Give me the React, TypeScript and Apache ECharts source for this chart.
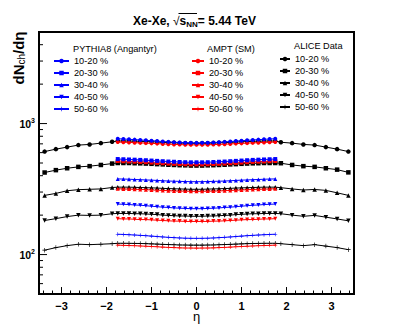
import React, { useEffect, useRef } from 'react';
import * as echarts from 'echarts';

const FONT = 'Liberation Sans, Arial, sans-serif';

// eta bin centres
const aliceEta = [
  -3.375, -3.125, -2.875, -2.625, -2.375, -2.125, -1.875,
  -1.75, -1.625, -1.5, -1.375, -1.25, -1.125, -1, -0.875, -0.75, -0.625, -0.5, -0.375, -0.25, -0.125, 0,
  0.125, 0.25, 0.375, 0.5, 0.625, 0.75, 0.875, 1, 1.125, 1.25, 1.375, 1.5, 1.625, 1.75,
  1.875, 2.125, 2.375, 2.625, 2.875, 3.125, 3.375,
];
const modelEta = [
  -1.75, -1.625, -1.5, -1.375, -1.25, -1.125, -1, -0.875, -0.75, -0.625, -0.5, -0.375, -0.25, -0.125, 0,
  0.125, 0.25, 0.375, 0.5, 0.625, 0.75, 0.875, 1, 1.125, 1.25, 1.375, 1.5, 1.625, 1.75,
];

const centralityLabels = ['10-20 %', '20-30 %', '30-40 %', '40-50 %', '50-60 %'];

// ALICE data
const alice10_20 = [611, 638, 661, 685, 693, 709, 726,
  736, 736, 735, 734, 732, 729, 726, 723, 719, 716, 713, 710, 708, 707, 706,
  707, 708, 710, 713, 716, 719, 723, 726, 729, 732, 734, 735, 736, 736,
  720, 709, 693, 685, 661, 638, 611];
const alice20_30 = [423, 441, 456, 467, 473, 483, 495,
  500, 500, 500, 498, 497, 495, 493, 490, 488, 485, 483, 481, 480, 478, 478,
  478, 480, 481, 483, 485, 488, 490, 493, 495, 497, 498, 500, 500, 500,
  498, 483, 473, 467, 456, 445, 424];
const alice30_40 = [283, 293, 307, 313, 315, 317, 325,
  327, 327, 327, 326, 325, 324, 323, 322, 320, 319, 318, 317, 316, 315, 315,
  315, 316, 317, 318, 319, 320, 322, 323, 324, 325, 326, 327, 327, 327,
  324, 317, 311, 314, 309, 296, 283];
const alice40_50 = [182, 188, 195, 200, 199, 200, 205,
  206, 206, 206, 205, 205, 204, 203, 202, 200, 199, 198, 197, 197, 196, 196,
  196, 197, 197, 198, 199, 200, 202, 203, 204, 205, 205, 206, 206, 206,
  205, 200, 196, 199, 193, 187, 181];
const alice50_60 = [108, 113, 117, 120, 119, 120, 121,
  122, 122, 121.9, 121.7, 121.5, 121.1, 120.7, 120.2, 119.7, 119.2, 118.8, 118.4, 118.2, 118, 118,
  118, 118.2, 118.4, 118.8, 119.2, 119.7, 120.2, 120.7, 121.1, 121.5, 121.7, 121.9, 122, 122,
  121, 119, 117, 119, 116, 113, 109];

// PYTHIA8 (Angantyr)
const pythia10_20 = [765, 762, 758, 754, 750, 745, 740, 735, 729, 725, 720, 717, 714, 713, 712,
  713, 714, 717, 720, 725, 729, 735, 740, 745, 750, 754, 758, 762, 765];
const pythia20_30 = [536, 534, 532, 530, 528, 525, 522, 519, 516, 513, 511, 509, 507, 506, 506,
  506, 507, 509, 511, 513, 516, 519, 522, 525, 528, 530, 532, 534, 536];
const pythia30_40 = [378, 377, 376, 374, 373, 371, 370, 368, 366, 364, 363, 362, 361, 360, 360,
  360, 361, 362, 363, 364, 366, 368, 370, 371, 373, 374, 376, 377, 378];
const pythia40_50 = [243, 242, 241, 239, 238, 236, 234, 232, 230, 229, 227, 226, 225, 224, 224,
  224, 225, 226, 227, 229, 230, 232, 234, 236, 238, 239, 241, 242, 243];
const pythia50_60 = [143, 142.4, 141.7, 141, 140.2, 139.3, 138.3, 137.3, 136.3, 135.4, 134.6, 133.9, 133.4, 133.1, 133,
  133.1, 133.4, 133.9, 134.6, 135.4, 136.3, 137.3, 138.3, 139.3, 140.2, 141, 141.7, 142.4, 143];

// AMPT (SM)
const ampt10_20 = [722, 720, 718, 715, 712, 709, 706, 703, 699, 696, 693, 691, 689, 688, 688,
  688, 689, 691, 693, 696, 699, 703, 706, 709, 712, 715, 718, 720, 722];
const ampt20_30 = [518, 516, 514, 512, 510, 507, 504, 501, 498, 495, 493, 491, 489, 488, 488,
  488, 489, 491, 493, 495, 498, 501, 504, 507, 510, 512, 514, 516, 518];
const ampt30_40 = [318, 317, 316, 315, 314, 313, 311, 310, 309, 307, 306, 305, 305, 304, 304,
  304, 305, 305, 306, 307, 309, 310, 311, 313, 314, 315, 316, 317, 318];
const ampt40_50 = [188, 187, 187, 186, 185, 185, 184, 183, 182, 181, 180, 180, 179, 179, 179,
  179, 179, 180, 180, 181, 182, 183, 184, 185, 185, 186, 187, 187, 188];
const ampt50_60 = [118, 117.6, 117.2, 116.8, 116.3, 115.8, 115.2, 114.6, 114, 113.4, 113, 112.5, 112.2, 112.1, 112,
  112.1, 112.2, 112.5, 113, 113.4, 114, 114.6, 115.2, 115.8, 116.3, 116.8, 117.2, 117.6, 118];

// axis ticks and labels
const xLabelValues = [-3, -2, -1, 0, 1, 2, 3];
const xMajorTicks = [-3, -2, -1, 0, 1, 2, 3];
const xMinorTicks = [-3.4, -3.2, -2.8, -2.6, -2.4, -2.2, -1.8, -1.6, -1.4, -1.2, -0.8, -0.6, -0.4, -0.2,
  0.2, 0.4, 0.6, 0.8, 1.2, 1.4, 1.6, 1.8, 2.2, 2.4, 2.6, 2.8, 3.2, 3.4];
const yMajorTicks = [100, 1000];
const yMinorTicks = [60, 70, 80, 90, 200, 300, 400, 500, 600, 700, 800, 900, 2000, 3000, 4000];
const xRange = [-3.5, 3.5];
const yRange = [50, 5000];

const aliceSets = [alice10_20, alice20_30, alice30_40, alice40_50, alice50_60];
const pythiaSets = [pythia10_20, pythia20_30, pythia30_40, pythia40_50, pythia50_60];
const amptSets = [ampt10_20, ampt20_30, ampt30_40, ampt40_50, ampt50_60];

const SYMBOLS = [
  'circle',
  'rect',
  'triangle',
  'path://M0,0L10,0L5,10Z',
  'path://M0,4.3L10,4.3L10,5.7L0,5.7Z M4.3,0L5.7,0L5.7,10L4.3,10Z',
];

const GRID = { left: 39, top: 32, right: 40, bottom: 34 };

export default function App() {
  const ref = useRef<HTMLDivElement>(null);
  const frameRef = useRef<HTMLDivElement>(null);
  useEffect(() => {
    if (!ref.current || !frameRef.current) return;
    const chart = echarts.init(ref.current, null, { renderer: 'svg' });
    const frame = echarts.init(frameRef.current, null, { renderer: 'svg' });

    const mk = (prefix: string, color: string, x: number[], sets: number[][], z: number, size: number) =>
      sets.map((vals, i) => ({
        name: prefix + '|' + centralityLabels[i],
        type: 'line',
        data: x.map((e, j) => [e, vals[j]]),
        symbol: SYMBOLS[i],
        symbolSize: size,
        showSymbol: true,
        color,
        itemStyle: { color },
        lineStyle: { color, width: 1 },
        z,
      }));

    const aliceSeries = mk('A', '#000000', aliceEta, aliceSets, 2, 4.5);
    const amptSeries = mk('M', '#ff0000', modelEta, amptSets, 3, 4);
    const pythiaSeries = mk('P', '#0000ff', modelEta, pythiaSets, 4, 4);

    const legendBase = {
      orient: 'vertical',
      padding: 0,
      itemGap: 0,
      itemHeight: 5.6,
      textStyle: { fontSize: 9.2, fontFamily: FONT, color: '#000000', lineHeight: 12 },
      formatter: (n: string) => n.split('|')[1],
    };

    const option: any = {
      animation: false,
      backgroundColor: '#ffffff',
      grid: GRID,
      xAxis: {
        type: 'value', min: xRange[0], max: xRange[1],
        axisLine: { show: false }, axisTick: { show: false }, splitLine: { show: false },
        axisLabel: {
          customValues: xLabelValues,
          margin: 6, fontSize: 11, fontWeight: 'bold', fontFamily: FONT, color: '#000000',
          formatter: (v: number) => (v < 0 ? '\u2212' + Math.abs(v) : String(v)),
        },
        name: '\u03b7', nameLocation: 'middle', nameGap: 16, nameMoveOverlap: false,
        nameTextStyle: { fontSize: 13, fontFamily: FONT, color: '#000000' },
      },
      yAxis: {
        type: 'log', logBase: 10, min: yRange[0], max: yRange[1],
        axisLine: { show: false, onZero: false }, splitLine: { show: false }, axisTick: { show: false },
        axisLabel: {
          showMinLabel: false, showMaxLabel: false,
          margin: 4, color: '#000000', fontFamily: FONT,
          formatter: (v: number) => {
            const r = Math.round(v);
            if (r === 100) return '{b|10}{s|2}';
            if (r === 1000) return '{b|10}{s|3}';
            return String(r);
          },
          rich: {
            b: { fontSize: 10.5, fontWeight: 'bold', fontFamily: FONT, color: '#000000' },
            s: { fontSize: 7, fontWeight: 'bold', fontFamily: FONT, color: '#000000', padding: [0, 0, 7, 0] },
          },
        },
      },
      legend: [
        { ...legendBase, left: 53, top: 55, itemWidth: 15, data: pythiaSeries.map((s) => s.name) },
        { ...legendBase, left: 191, top: 55, itemWidth: 12, data: amptSeries.map((s) => s.name) },
        { ...legendBase, left: 279, top: 53, itemWidth: 10, data: aliceSeries.map((s) => s.name) },
      ],
      graphic: [
        {
          type: 'text', x: 194.5, y: 21,
          style: {
            text: '{t|Xe-Xe, }{r|\u221a}{t|s}{n|NN}{t|= 5.44 TeV}',
            align: 'center', verticalAlign: 'middle',
            rich: {
              t: { fontSize: 12, fontWeight: 'bold', fontFamily: FONT, fill: '#000000' },
              r: { fontSize: 12, fontFamily: FONT, fill: '#000000' },
              n: { fontSize: 8, fontWeight: 'bold', fontFamily: FONT, fill: '#000000', padding: [6, 0, 0, 0] },
            },
          },
        },
        { type: 'line', shape: { x1: 178.5, y1: 13.5, x2: 197, y2: 13.5 }, style: { stroke: '#000000', lineWidth: 1 } },
        {
          type: 'text', x: 18, y: 58, rotation: Math.PI / 2,
          style: {
            text: '{b|dN}{c|ch}{b|/d\u03b7}',
            align: 'center', verticalAlign: 'middle',
            rich: {
              b: { fontSize: 15, fontWeight: 'bold', fontFamily: FONT, fill: '#000000' },
              c: { fontSize: 10, fontFamily: FONT, fill: '#000000', padding: [7, 0, 0, 0] },
            },
          },
        },
        { type: 'text', x: 73, y: 49, style: { text: 'PYTHIA8 (Angantyr)', fontSize: 9.2, fontFamily: FONT, fill: '#000000', verticalAlign: 'middle' } },
        { type: 'text', x: 207, y: 49, style: { text: 'AMPT (SM)', fontSize: 9.2, fontFamily: FONT, fill: '#000000', verticalAlign: 'middle' } },
        { type: 'text', x: 294, y: 46, style: { text: 'ALICE Data', fontSize: 9.2, fontFamily: FONT, fill: '#000000', verticalAlign: 'middle' } },
      ],
      series: [...aliceSeries, ...amptSeries, ...pythiaSeries],
    };
    chart.setOption(option);

    // overlay chart with the same axes: plot frame and inward tick marks
    const yMajorFactor = 1.13;
    const yMinorFactor = 1.063;
    const xMajorLen = 0.178;
    const xMinorLen = 0.089;
    const tickPts: any[] = [];
    xMajorTicks.forEach((v) => tickPts.push([v, yRange[0]], [v, yRange[0] * yMajorFactor], [v, '-']));
    xMinorTicks.forEach((v) => tickPts.push([v, yRange[0]], [v, yRange[0] * yMinorFactor], [v, '-']));
    yMajorTicks.forEach((v) => tickPts.push([xRange[0], v], [xRange[0] + xMajorLen, v], [xRange[0] + xMajorLen, '-']));
    yMinorTicks.forEach((v) => tickPts.push([xRange[0], v], [xRange[0] + xMinorLen, v], [xRange[0] + xMinorLen, '-']));

    frame.setOption({
      animation: false,
      grid: { ...GRID, show: true, borderColor: '#000000', borderWidth: 2 },
      xAxis: {
        type: 'value', min: xRange[0], max: xRange[1],
        axisLine: { show: true, onZero: false, lineStyle: { color: '#000000', width: 2 } },
        axisTick: { show: false }, axisLabel: { show: false }, splitLine: { show: false },
      },
      yAxis: {
        type: 'log', min: yRange[0], max: yRange[1],
        axisLine: { show: true, onZero: false, lineStyle: { color: '#000000', width: 2 } },
        axisTick: { show: false }, axisLabel: { show: false }, splitLine: { show: false },
      },
      series: [
        {
          type: 'line', data: tickPts, showSymbol: false, symbol: 'none', clip: false,
          connectNulls: false, color: '#000000', lineStyle: { color: '#000000', width: 1 },
        },
      ],
    });

    return () => {
      chart.dispose();
      frame.dispose();
    };
  }, []);
  return (
    <div style={{ position: 'fixed', left: 0, top: 0, width: 394, height: 328 }}>
      <div ref={ref} style={{ position: 'absolute', left: 0, top: 0, width: 394, height: 328 }} />
      <div ref={frameRef} style={{ position: 'absolute', left: 0, top: 0, width: 394, height: 328, pointerEvents: 'none' }} />
    </div>
  );
}
